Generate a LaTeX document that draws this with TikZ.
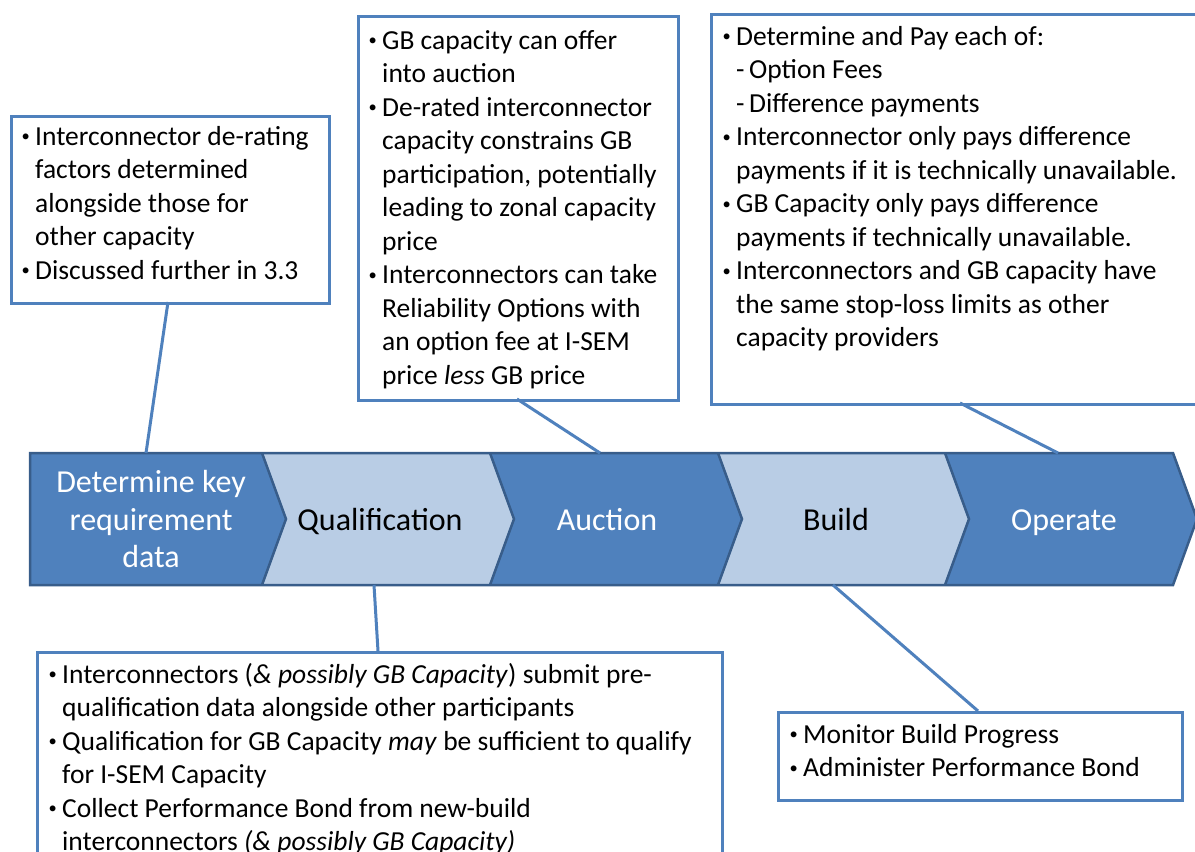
\documentclass[tikz,border=0pt]{standalone}
\usepackage{fontspec}
\usepackage{graphicx}
\setmainfont{Carlito}
\definecolor{dk}{HTML}{4F81BD}
\definecolor{lt}{HTML}{B9CDE5}
\definecolor{edge}{HTML}{385D8A}
\newcommand\bul{\makebox[15pt][l]{\hspace{1.5pt}\raisebox{0.13em}{\scalebox{0.6}{•}}}}
\newcommand\ind{\hspace*{15pt}}
\newcommand\dsh{\hspace*{15pt}\makebox[13pt][l]{-}}
\tikzset{
  box/.style={draw=dk, line width=3pt, fill=white, anchor=north west, inner sep=0pt, minimum width=#1},
  btext/.style={anchor=north west, inner sep=0pt, align=left, font=\fontsize{27.5}{33.5}\selectfont},
  ctext/.style={align=center, inner sep=0pt, font=\fontsize{32}{37}\selectfont},
  link/.style={draw=dk, line width=3pt},
  chevd/.style={fill=dk},
  chevl/.style={fill=lt},
  cedge/.style={draw=edge, line width=2.5pt, line join=miter},
}
\begin{document}
\begin{tikzpicture}[x=1pt,y=-1pt]
\clip (0,0) rectangle (1195,852);
\fill[white] (0,0) rectangle (1195,852);
% chevrons
\path[chevd] (30,453) -- (262,453) -- (286,519) -- (262,585) -- (30,585) -- cycle;
\path[chevl] (262,453) -- (490,453) -- (514,519) -- (490,585) -- (262,585) -- (286,519) -- cycle;
\path[chevd] (490,453) -- (718,453) -- (742,519) -- (718,585) -- (490,585) -- (514,519) -- cycle;
\path[chevl] (718,453) -- (945,453) -- (969,519) -- (945,585) -- (718,585) -- (742,519) -- cycle;
\path[chevd] (945,453) -- (1173,453) -- (1197,519) -- (1173,585) -- (945,585) -- (969,519) -- cycle;
\draw[cedge] (30,453) -- (1173,453) -- (1197,519) -- (1173,585) -- (30,585) -- cycle;
\draw[cedge] (262,453) -- (286,519) -- (262,585);
\draw[cedge] (490,453) -- (514,519) -- (490,585);
\draw[cedge] (718,453) -- (742,519) -- (718,585);
\draw[cedge] (945,453) -- (969,519) -- (945,585);
\node[ctext, text=white] (c1) at (151,519) {Determine key\\requirement\\data};
\node[ctext, text=black, anchor=base] (c2) at (380,530) {Qualification};
\node[ctext, text=white, anchor=base] (c3) at (607,530) {Auction};
\node[ctext, text=black, anchor=base] (c4) at (836,530) {Build};
\node[ctext, text=white, anchor=base] (c5) at (1064,530) {Operate};
% connector end points on chevrons
\coordinate (p1) at (146,453);
\coordinate (p2) at (600,453);
\coordinate (p3) at (1058,453);
\coordinate (p4) at (374,585);
\coordinate (p5) at (833,585);
% boxes
\node[box=318pt, minimum height=187pt] (b1) at (10,115) {};
\node[box=320pt, minimum height=384pt] (b2) at (357,15) {};
\node[box=520pt, minimum height=390pt] (b3) at (710,13) {};
\node[box=685pt, minimum height=260pt] (b4) at (36,651) {};
\node[box=404pt, minimum height=88pt] (b5) at (777,711) {};
\coordinate (q1) at (168,302);
\coordinate (q2) at (517,399);
\coordinate (q3) at (960,403);
\coordinate (q4) at (378,651);
\coordinate (q5) at (978,711);
\draw[link] (q1) -- (p1);
\draw[link] (q2) -- (p2);
\draw[link] (q3) -- (p3);
\draw[link] (p4) -- (q4);
\draw[link] (p5) -- (q5);
% texts
\node[btext] (t1) at (20,123) {\rule{0pt}{22pt}\bul Interconnector de-rating\\
\ind factors determined\\
\ind alongside those for\\
\ind other capacity\\
\bul Discussed further in 3.3};
\node[btext] (t2) at (367,27) {\rule{0pt}{22pt}\bul GB capacity can offer\\
\ind into auction\\
\bul De-rated interconnector\\
\ind capacity constrains GB\\
\ind participation, potentially\\
\ind leading to zonal capacity\\
\ind price\\
\bul Interconnectors can take\\
\ind Reliability Options with\\
\ind an option fee at I-SEM\\
\ind price \textit{less} GB price};
\node[btext] (t3) at (721,23) {\rule{0pt}{22pt}\bul Determine and Pay each of:\\
\dsh Option Fees\\
\dsh Difference payments\\
\bul Interconnector only pays difference\\
\ind payments if it is technically unavailable.\\
\bul GB Capacity only pays difference\\
\ind payments if technically unavailable.\\
\bul Interconnectors and GB capacity have\\
\ind the same stop-loss limits as other\\
\ind capacity providers};
\node[btext] (t4) at (47,661) {\rule{0pt}{22pt}\bul Interconnectors (\textit{\& possibly GB Capacity}) submit pre-\\
\ind qualification data alongside other participants\\
\bul Qualification for GB Capacity \textit{may} be sufficient to qualify\\
\ind for I-SEM Capacity\\
\bul Collect Performance Bond from new-build\\
\ind interconnectors \textit{(\& possibly GB Capacity)}};
\node[btext] (t5) at (788,721) {\rule{0pt}{22pt}\bul Monitor Build Progress\\
\bul Administer Performance Bond};
\end{tikzpicture}
\end{document}
